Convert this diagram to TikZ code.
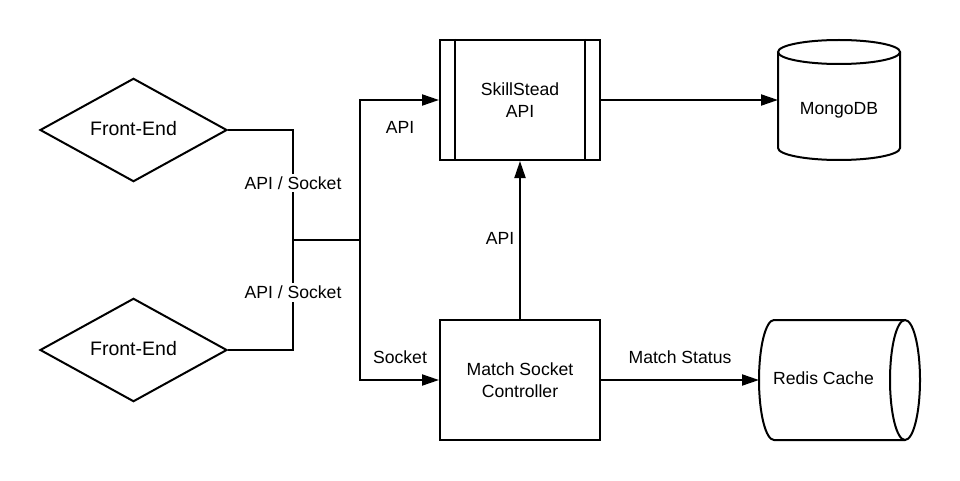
\documentclass[tikz,border=0pt]{standalone}
\usepackage{fontspec}
\setmainfont{Liberation Sans}
\usetikzlibrary{arrows.meta,shapes.geometric}
\begin{document}
\begin{tikzpicture}[x=1pt,y=1pt,line width=2pt,
  txt/.style={font=\fontsize{17.6pt}{21.6pt}\selectfont},
  lbl/.style={txt,inner sep=1pt},
  wlbl/.style={txt,fill=white,inner xsep=1pt,inner ysep=3pt},
  box/.style={draw,txt,minimum width=160pt,minimum height=120pt,inner sep=0pt,align=center},
  fe/.style={diamond,draw,minimum width=187pt,minimum height=100pt,inner sep=0pt,font=\fontsize{19.5pt}{23pt}\selectfont},
  ghost/.style={inner sep=0pt,outer sep=0pt},
  arr/.style={-{Triangle[length=17pt,width=11pt]}}]
\useasboundingbox (0,0) rectangle (960,480);

% nodes
\node[fe] (fe1) at (133.5,350) {\raisebox{2.5pt}{Front-End}};
\node[fe] (fe2) at (133.5,130) {\raisebox{2.5pt}{Front-End}};
\node[box] (api) at (520,380) {SkillStead\\API};
\node[box] (msc) at (520,100) {Match Socket\\Controller};
\draw ([xshift=16pt]api.north west) -- ([xshift=16pt]api.south west);
\draw ([xshift=-16pt]api.north east) -- ([xshift=-16pt]api.south east);

% MongoDB cylinder
\node[ghost,minimum width=122pt,minimum height=120pt] (mongo) at (839,380) {};
\draw (778,428) -- (778,332) arc[start angle=180,end angle=360,x radius=61,y radius=12] -- (900,428);
\draw (839,428) ellipse[x radius=61,y radius=12];
\node[lbl] (mongot) at (839,370) {MongoDB};

% Redis cylinder
\node[ghost,minimum width=161pt,minimum height=120pt] (redis) at (839.5,100) {};
\draw (905,160) -- (774,160) arc[start angle=90,end angle=270,x radius=15,y radius=60] -- (905,40);
\draw (905,100) ellipse[x radius=15,y radius=60];
\node[lbl] (redist) at (823.5,101.5) {Redis Cache};

% connectors
\coordinate (j) at (293,240);
\coordinate (s) at (360,240);
\draw (fe1.east) -| (j) -- (s);
\draw (fe2.east) -| (j);
\draw[arr] (s) |- (api.west);
\draw[arr] (s) |- (msc.west);
\draw[arr] (api.east) -- (mongo.west);
\draw[arr] (msc.north) -- (api.south);
\draw[arr] (msc.east) -- (redis.west);

% labels
\node[wlbl] (l1) at (293,297) {API / Socket};
\node[wlbl] (l2) at (293,187.5) {API / Socket};
\node[lbl] (l3) at (400,352.5) {API};
\node[lbl] (l4) at (400,122.5) {Socket};
\node[lbl] (l5) at (500,242) {API};
\node[lbl] (l6) at (680,122.5) {Match Status};
\end{tikzpicture}
\end{document}
